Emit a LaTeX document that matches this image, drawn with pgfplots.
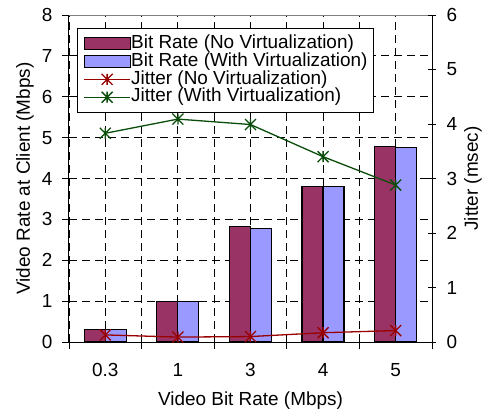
\documentclass[border=0pt]{standalone}
\usepackage{fontspec}
\setmainfont{Liberation Sans}
\usepackage{pgfplots}
\pgfplotsset{compat=1.18}
\definecolor{barA}{HTML}{993366}
\definecolor{barB}{HTML}{9999FF}
\definecolor{jA}{HTML}{990000}
\definecolor{jB}{HTML}{0A4D0A}
\pgfdeclareplotmark{xstar}{%
  \pgfpathmoveto{\pgfqpoint{0pt}{\pgfplotmarksize}}%
  \pgfpathlineto{\pgfqpoint{0pt}{-\pgfplotmarksize}}%
  \pgfpathmoveto{\pgfqpoint{-\pgfplotmarksize}{-\pgfplotmarksize}}%
  \pgfpathlineto{\pgfqpoint{\pgfplotmarksize}{\pgfplotmarksize}}%
  \pgfpathmoveto{\pgfqpoint{-\pgfplotmarksize}{\pgfplotmarksize}}%
  \pgfpathlineto{\pgfqpoint{\pgfplotmarksize}{-\pgfplotmarksize}}%
  \pgfusepathqstroke}
\pgfplotsset{linelegend/.style={legend image code/.code={\draw[##1,mark repeat=2,mark phase=2] plot coordinates {(0bp,0bp) (23bp,0bp) (46bp,0bp)};}}}
\begin{document}
\fontsize{19}{21}\selectfont
\begin{tikzpicture}
\useasboundingbox (-69bp,-75bp) rectangle (426bp,342bp);
\begin{axis}[
  scale only axis, width=363bp, height=327bp,
  at={(0,0)}, anchor=south west,
  xmin=-0.5, xmax=4.5, ymin=0, ymax=8, ytick={0,...,8},
  axis y line*=left, axis x line*=bottom,
  axis line style={black, line width=1bp},
  xtick={0,...,4}, xticklabels={0.3,1,3,4,5},
  major x tick style={draw=none},
  minor xtick={-0.5,0.5,...,4.5},
  xmajorgrids, xminorgrids, ymajorgrids,
  grid style={black, line width=0.9bp, dash pattern=on 8bp off 5bp},
  minor grid style={black, line width=0.9bp, dash pattern=on 8bp off 5bp},
  tick align=outside, major tick length=7bp, minor tick length=7bp,
  tick style={black, line width=0.9bp},
  /pgf/number format/assume math mode=true,
  xticklabel style={yshift=-8bp},
  yticklabel style={xshift=-3bp},
  ybar=0pt, bar width=21bp,
  xlabel={Video Bit Rate (Mbps)},
  ylabel={Video Rate at Client (Mbps)},
  xlabel style={at={(axis description cs:0.5,-0.18)}, anchor=center},
  ylabel style={at={(axis description cs:-0.121,0.5)}, anchor=center},
]
\addplot[fill=barA, draw=black, line width=1.2bp] coordinates {(0,0.30) (1,0.99) (2,2.82) (3,3.81) (4,4.79)};
\addplot[fill=barB, draw=black, line width=1.2bp] coordinates {(0,0.30) (1,0.99) (2,2.78) (3,3.80) (4,4.75)};
\draw[gray, line width=1bp] (rel axis cs:0,1) -- (rel axis cs:1,1);
\end{axis}
\begin{axis}[
  scale only axis, width=363bp, height=327bp,
  at={(0,0)}, anchor=south west,
  xmin=-0.5, xmax=4.5, ymin=0, ymax=6, ytick={0,...,6},
  axis y line*=right, axis x line=none,
  axis line style={black, line width=1bp},
  tick align=center, major tick length=8bp,
  tick style={black, line width=0.9bp},
  /pgf/number format/assume math mode=true,
  yticklabel style={xshift=4bp},
  ylabel={Jitter (msec)},
  ylabel style={at={(axis description cs:1.113,0.5)}, anchor=center},
  legend cell align=left,
  legend style={at={(axis description cs:0.022,0.96)}, anchor=north west,
    draw=black, line width=1bp, inner xsep=6bp, inner ysep=6bp,
    nodes={inner sep=0.4bp, text height=13.3bp, text depth=3.8bp}, row sep=0bp},
]
\addlegendimage{legend image code/.code={\draw[fill=barA,draw=black,line width=1.2bp] (0bp,-6bp) rectangle (46bp,6bp);}}
\addlegendentry{Bit Rate (No Virtualization)}
\addlegendimage{legend image code/.code={\draw[fill=barB,draw=black,line width=1.2bp] (0bp,-6bp) rectangle (46bp,6bp);}}
\addlegendentry{Bit Rate (With Virtualization)\hspace{8bp}}
\addplot[color=jA, line width=1.3bp, mark=xstar, mark size=5.5bp, mark options={line width=1.3bp}, linelegend]
  coordinates {(0,0.13) (1,0.09) (2,0.10) (3,0.17) (4,0.21)};
\addlegendentry{Jitter (No Virtualization)}
\addplot[color=jB, line width=1.3bp, mark=xstar, mark size=5.5bp, mark options={line width=1.3bp}, linelegend]
  coordinates {(0,3.83) (1,4.09) (2,3.99) (3,3.40) (4,2.88)};
\addlegendentry{Jitter (With Virtualization)}
\end{axis}
\end{tikzpicture}
\end{document}
